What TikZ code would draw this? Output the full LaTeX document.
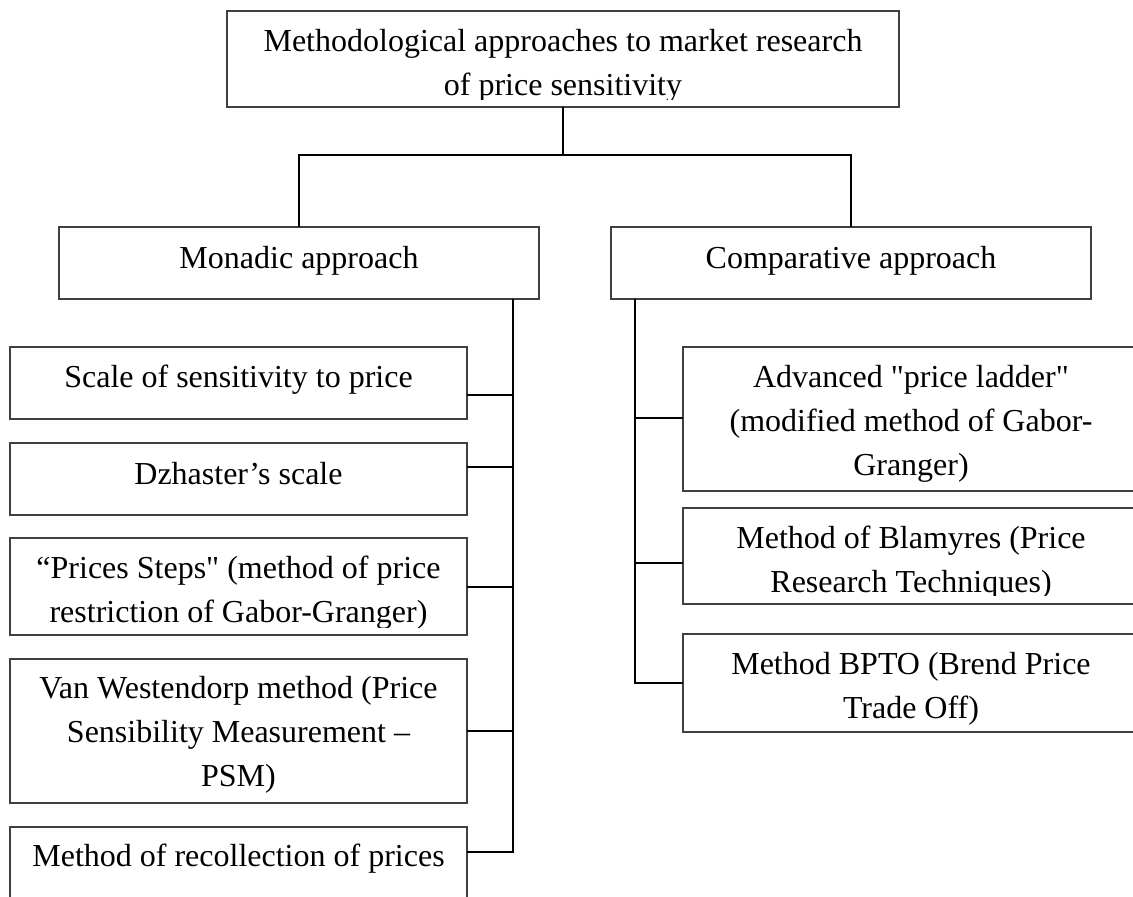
\documentclass[tikz,border=0pt]{standalone}
\usepackage{fontspec}
\setmainfont{Liberation Serif}[Ligatures=TeXOff]
\tikzset{
  rbox/.style={draw=black!75, line width=0.75pt, inner sep=0pt, outer sep=0pt, anchor=north west, fill=none},
  boxtext/.style={font=\fontsize{16}{22}\selectfont, align=center, inner sep=0pt, anchor=north},
  conn/.style={draw=black, line width=1pt},
}
\begin{document}
\begin{tikzpicture}[x=0.5pt, y=-0.5pt]
\useasboundingbox (0,0) rectangle (1133,896);
\clip (0,0) rectangle (1133,896);
\fill[white] (0,0) rectangle (1133,896);

% boxes
\node[rbox, minimum width=336pt, minimum height=48pt] (top) at (227,11) {};
\node[rbox, minimum width=240pt, minimum height=36pt] (mon) at (59,227) {};
\node[rbox, minimum width=240pt, minimum height=36pt] (comp) at (611,227) {};
\node[rbox, minimum width=228.5pt, minimum height=36pt] (b1) at (10,347) {};
\node[rbox, minimum width=228.5pt, minimum height=36pt] (b2) at (10,443) {};
\node[rbox, minimum width=228.5pt, minimum height=48.5pt] (b3) at (10,538) {};
\node[rbox, minimum width=228.5pt, minimum height=72pt] (b4) at (10,659) {};
\node[rbox, minimum width=228.5pt, minimum height=50pt] (b5) at (10,827) {};
\node[rbox, minimum width=228pt, minimum height=72pt] (rA) at (683,347) {};
\node[rbox, minimum width=228pt, minimum height=48pt] (rB) at (683,508) {};
\node[rbox, minimum width=228pt, minimum height=49pt] (rC) at (683,634) {};

% texts
\begin{scope}
\clip (227,11) rectangle (899,99);
\node[boxtext] (toptext) at (563,20) {\strut Methodological approaches to market research\\of price sensitivity};
\end{scope}
\node[boxtext] (montext) at (299,237) {\strut Monadic approach};
\node[boxtext] (comptext) at (851,237) {\strut Comparative approach};
\node[boxtext] (b1text) at (238.5,356) {\strut Scale of sensitivity to price};
\node[boxtext] (b2text) at (238.5,453) {\strut Dzhaster’s scale};
\begin{scope}
\clip (10,538) rectangle (467,627);
\node[boxtext] (b3text) at (238.5,547) {\strut “Prices Steps" (method of price\\restriction of Gabor-Granger)};
\end{scope}
\node[boxtext] (b4text) at (238.5,667) {\strut Van Westendorp method (Price\\Sensibility Measurement –\\PSM)};
\node[boxtext] (b5text) at (238.5,835) {\strut Method of recollection of prices};
\node[boxtext] (rAtext) at (911,356) {\strut Advanced "price ladder"\\(modified method of Gabor-\\Granger)};
\begin{scope}
\clip (683,508) rectangle (1139,595);
\node[boxtext] (rBtext) at (911,517) {\strut Method of Blamyres (Price\\Research Techniques)};
\end{scope}
\node[boxtext] (rCtext) at (911,643) {\strut Method BPTO (Brend Price\\Trade Off)};

% connector coordinates
\coordinate (split) at (563,155);
\coordinate (lbus) at (513,299);
\coordinate (t1) at (513,395);
\coordinate (t2) at (513,467);
\coordinate (t3) at (513,587);
\coordinate (t4) at (513,731);
\coordinate (lend) at (513,852);
\coordinate (rbus) at (635,299);
\coordinate (s1) at (635,418);
\coordinate (s2) at (635,563);
\coordinate (rend) at (635,683);

% connectors
\draw[conn] (top.south) -- (top.south |- split);
\draw[conn] (mon.north) |- (split) -| (comp.north);
\draw[conn] (lbus) -- (lend) -- (lend -| b5.east);
\draw[conn] (t1) -- (t1 -| b1.east);
\draw[conn] (t2) -- (t2 -| b2.east);
\draw[conn] (t3) -- (t3 -| b3.east);
\draw[conn] (t4) -- (t4 -| b4.east);
\draw[conn] (rbus) -- (rend) -- (rend -| rC.west);
\draw[conn] (s1) -- (s1 -| rA.west);
\draw[conn] (s2) -- (s2 -| rB.west);
\end{tikzpicture}
\end{document}
